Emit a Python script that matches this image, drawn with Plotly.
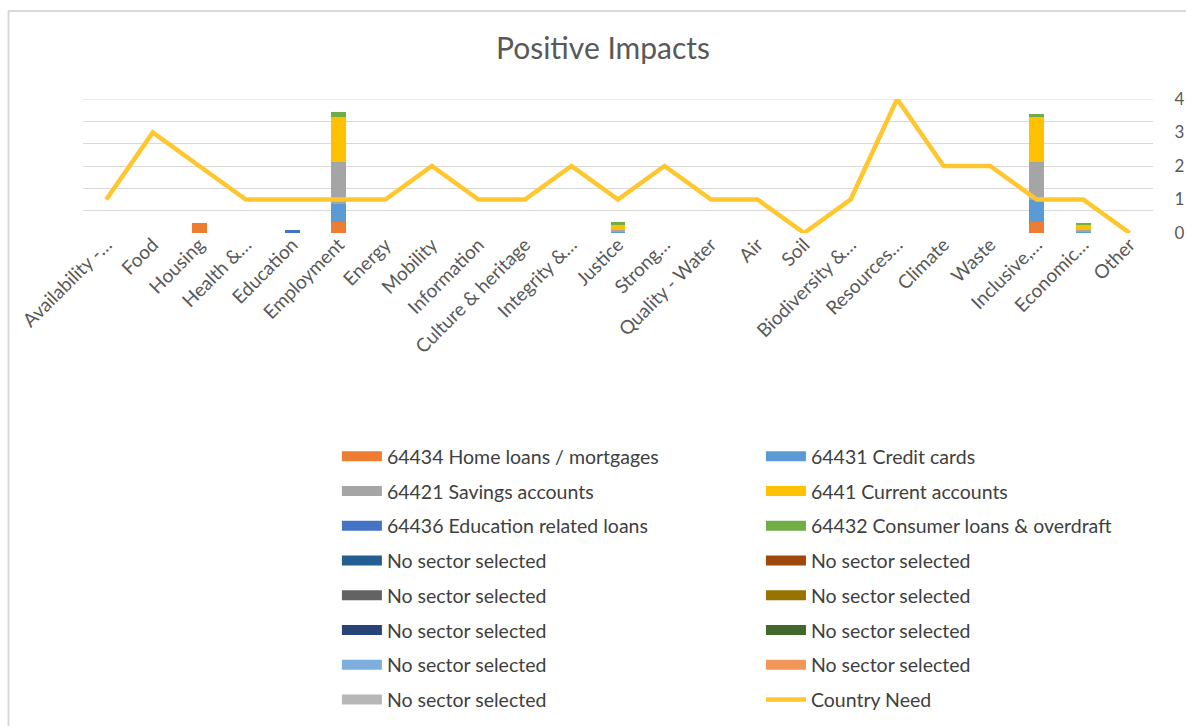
import plotly.graph_objects as go

categories = ["Availability -…", "Food", "Housing", "Health &…", "Education", "Employment",
              "Energy", "Mobility", "Information", "Culture & heritage", "Integrity &…",
              "Justice", "Strong…", "Quality - Water", "Air", "Soil", "Biodiversity &…",
              "Resources…", "Climate", "Waste", "Inclusive,…", "Economic…", "Other"]

n = len(categories)
def zeros():
    return [0] * n

home_loans = zeros(); home_loans[2] = 0.45; home_loans[5] = 0.5; home_loans[20] = 0.5
credit_cards = zeros(); credit_cards[5] = 0.8; credit_cards[20] = 1.0; credit_cards[11] = 0.05; credit_cards[21] = 0.05
savings = zeros(); savings[5] = 1.9; savings[20] = 1.7; savings[11] = 0.08; savings[21] = 0.08
current = zeros(); current[5] = 2.0; current[20] = 2.0; current[11] = 0.25; current[21] = 0.24
education_loans = zeros(); education_loans[4] = 0.12
consumer_loans = zeros(); consumer_loans[5] = 0.2; consumer_loans[20] = 0.12; consumer_loans[11] = 0.12; consumer_loans[21] = 0.07

country_need = [1, 3, 2, 1, 1, 1, 1, 2, 1, 1, 2, 1, 2, 1, 1, 0, 1, 4, 2, 2, 1, 1, 0]

series = [
    ("64434 Home loans / mortgages", home_loans, "#ED7D31", "legend"),
    ("64431 Credit cards", credit_cards, "#5B9BD5", "legend2"),
    ("64421 Savings accounts", savings, "#A5A5A5", "legend"),
    ("6441 Current accounts", current, "#FFC000", "legend2"),
    ("64436 Education related loans", education_loans, "#4472C4", "legend"),
    ("64432 Consumer loans & overdraft", consumer_loans, "#70AD47", "legend2"),
    ("No sector selected", zeros(), "#255E91", "legend"),
    ("No sector selected", zeros(), "#9E480E", "legend2"),
    ("No sector selected", zeros(), "#636363", "legend"),
    ("No sector selected", zeros(), "#997300", "legend2"),
    ("No sector selected", zeros(), "#264478", "legend"),
    ("No sector selected", zeros(), "#43682B", "legend2"),
    ("No sector selected", zeros(), "#7CAFDD", "legend"),
    ("No sector selected", zeros(), "#F1975A", "legend2"),
    ("No sector selected", zeros(), "#B7B7B7", "legend"),
]

fig = go.Figure()
for i, (name, vals, color, lg) in enumerate(series):
    fig.add_trace(go.Bar(x=categories, y=vals, name=name, marker_color=color,
                         marker_line_width=0, legendgroup=f"g{i}", showlegend=False))
    fig.add_trace(go.Scatter(x=[None], y=[None], mode="lines", name=name,
                             line=dict(color=color, width=12), legendgroup=f"g{i}",
                             legend=lg, showlegend=True))

fig.add_trace(go.Scatter(x=categories, y=country_need, name="Country Need", mode="lines",
                         line=dict(color="#FFC62E", width=4.5), yaxis="y2",
                         legendgroup="gcn", legend="legend2"))

legend_font = dict(family="Lato", size=19.5, color="#404040")
common_legend = dict(font=legend_font, yanchor="top", xanchor="left", tracegroupgap=6.4,
                     itemwidth=40, bgcolor="rgba(0,0,0,0)", itemclick=False,
                     itemdoubleclick=False)

W, H = 1186, 726
EPS = 1.0002

fig.update_layout(
    width=W, height=H,
    margin=dict(l=83, r=33, t=99, b=H - 233, autoexpand=False),
    paper_bgcolor="white", plot_bgcolor="white",
    barmode="stack", bargap=0.68,
    title=dict(text="Positive Impacts", x=603 / W, xanchor="center", y=1 - 48 / H,
               yanchor="middle", yref="container",
               font=dict(family="Lato", size=30, color="#595959")),
    xaxis=dict(type="category", categoryorder="array", categoryarray=categories,
               range=[-0.5, n - 0.5], tickangle=-45, showgrid=False, showline=False,
               ticks="", automargin=False, ticklabelstandoff=-4,
               tickfont=dict(family="Lato", size=19, color="#595959")),
    yaxis=dict(range=[0, 6 * EPS], dtick=1, showticklabels=False, showgrid=True,
               gridcolor="#D9D9D9", gridwidth=1, zeroline=False, fixedrange=True,
               automargin=False),
    yaxis2=dict(range=[0, 4 * EPS], dtick=1, overlaying="y", side="right", showgrid=False,
                zeroline=False, ticks="outside", ticklen=17, tickcolor="rgba(0,0,0,0)",
                automargin=False,
                tickfont=dict(family="Lato", size=17, color="#595959")),
    legend=dict(x=0.2373, y=-1.523, **common_legend),
    legend2=dict(x=0.6336, y=-1.523, **common_legend),
    showlegend=True,
    shapes=[
        dict(type="line", xref="paper", yref="y", x0=0, x1=1, y0=6, y1=6, layer="below",
             line=dict(color="#D9D9D9", width=1)),
        dict(type="line", xref="paper", yref="paper", x0=-75 / 1070, x1=1.04,
             y0=1 + 88 / 134, y1=1 + 88 / 134, line=dict(color="#D9D9D9", width=2)),
        dict(type="line", xref="paper", yref="paper", x0=-75 / 1070 + 0.0005,
             x1=-75 / 1070 + 0.0005, y0=1 + 88 / 134, y1=-3.8,
             line=dict(color="#D9D9D9", width=2)),
    ],
)

fig.write_html("out.html", config={"displayModeBar": False},
               post_script="document.body.style.margin='0';document.body.style.overflow='hidden';")
